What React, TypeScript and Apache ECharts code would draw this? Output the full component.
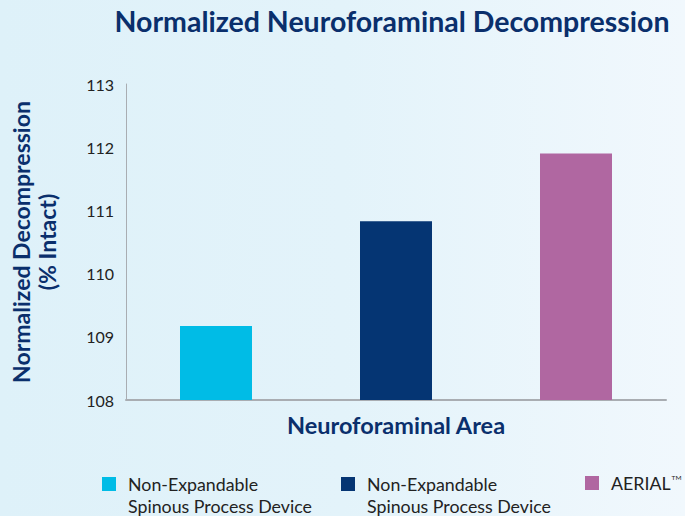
import React, { useEffect, useRef } from "react";
import * as echarts from "echarts";

const categories = ["Non-Expandable Spinous Process Device A", "Non-Expandable Spinous Process Device B", "AERIAL"];
const seriesNames = [
  "Non-Expandable\nSpinous Process Device",
  "Non-Expandable\nSpinous Process Device ",
  "AERIAL™",
];
const seriesValues = [109.17, 110.83, 111.9];
const seriesColors = ["#00bce6", "#053573", "#b067a1"];
const yTicks = { min: 108, max: 113, interval: 1 };

export default function App() {
  const ref = useRef<HTMLDivElement>(null);
  useEffect(() => {
    document.body.style.margin = "0";
    if (!ref.current) return;
    const chart = echarts.init(ref.current, null, { renderer: "svg" });
    const font = "Lato";
    const navy = "#0a2f6c";
    const legendLefts = [102, 341, 585];
    const legends = seriesNames.map((name, i) => {
      const twoLine = name.includes("\n");
      return {
        data: [name],
        left: legendLefts[i],
        top: twoLine ? 451 : 472,
        padding: 0,
        icon: "rect",
        itemWidth: 14,
        itemHeight: 14,
        selectedMode: false,
        formatter: (n: string) =>
          n.includes("\n") ? " \n" + n : "{a|" + n.replace("™", "") + "}{tm|TM}",
        textStyle: {
          fontFamily: font,
          fontSize: 17.8,
          color: "#222",
          lineHeight: 22,
          padding: [0, 0, 0, 7],
          rich: {
            a: { fontFamily: font, fontSize: 17.8, color: "#222", lineHeight: 22 },
            tm: { fontFamily: font, fontSize: 6.5, color: "#222", padding: [0, 0, 12, 1] },
          },
        },
      };
    });
    chart.setOption({
      animation: false,
      backgroundColor: new echarts.graphic.LinearGradient(0, 0, 1, 0, [
        { offset: 0, color: "#def1f9" },
        { offset: 0.5, color: "#e3f3fa" },
        { offset: 1, color: "#f1f8fd" },
      ]),
      title: {
        text: "Normalized Neuroforaminal Decompression",
        left: 387,
        textAlign: "center",
        top: 1,
        textStyle: { fontFamily: font, fontWeight: "bold", fontSize: 28.5, color: navy },
      },
      legend: legends,
      grid: { left: 125, right: 19, top: 84, bottom: 116, containLabel: false },
      xAxis: {
        type: "category",
        data: categories,
        axisLabel: { show: false },
        axisTick: { show: false },
        axisLine: { lineStyle: { color: "#a9adb2", width: 2 } },
        name: "Neuroforaminal Area",
        nameLocation: "middle",
        nameGap: 13,
        nameTextStyle: { fontFamily: font, fontWeight: "bold", fontSize: 23.5, color: navy },
      },
      yAxis: {
        type: "value",
        min: yTicks.min,
        max: yTicks.max,
        interval: yTicks.interval,
        splitLine: { show: false },
        axisTick: { show: false },
        axisLine: { show: true, lineStyle: { color: "#a9adb2", width: 1 } },
        axisLabel: { fontFamily: font, fontSize: 16, color: "#222", margin: 12 },
        name: "Normalized Decompression\n(% Intact)",
        nameLocation: "middle",
        nameGap: 66,
        nameTextStyle: {
          fontFamily: font,
          fontWeight: "bold",
          fontSize: 23,
          color: navy,
          lineHeight: 26,
          align: "center",
        },
      },
      series: seriesNames.map((name, i) => ({
        type: "bar",
        name,
        barWidth: "40%",
        barGap: "-100%",
        itemStyle: { color: seriesColors[i] },
        data: categories.map((_, j) => (j === i ? seriesValues[i] : "-")),
      })),
    });
    return () => chart.dispose();
  }, []);
  return <div ref={ref} style={{ width: 685, height: 516 }} />;
}
